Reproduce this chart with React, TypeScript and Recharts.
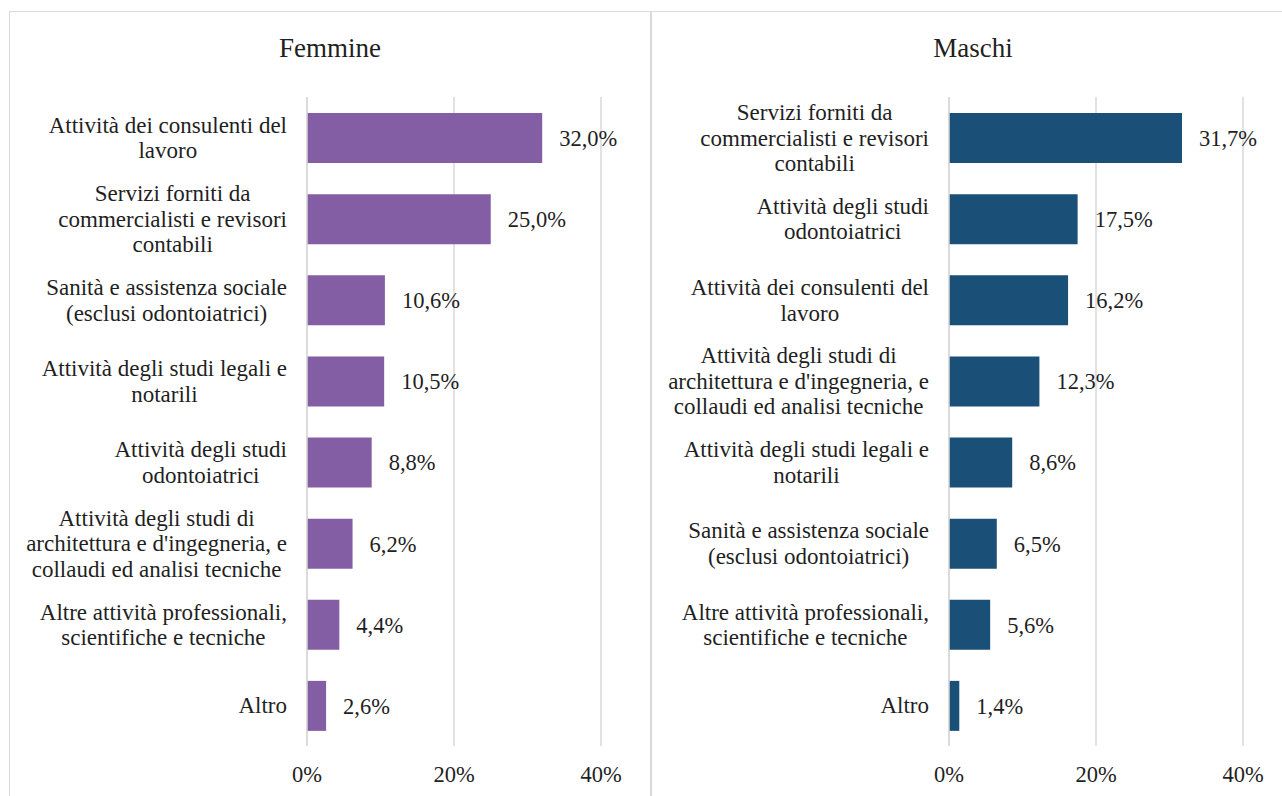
import React from "react"
import { BarChart, Bar, XAxis, YAxis, CartesianGrid, LabelList } from "recharts"

// categorie e valori (%)
const femmineLabels = [
  "Attività dei consulenti del\nlavoro",
  "Servizi forniti da\ncommercialisti e revisori\ncontabili",
  "Sanità e assistenza sociale\n(esclusi odontoiatrici)",
  "Attività degli studi legali e\nnotarili",
  "Attività degli studi\nodontoiatrici",
  "Attività degli studi di\narchitettura e d'ingegneria, e\ncollaudi ed analisi tecniche",
  "Altre attività professionali,\nscientifiche e tecniche",
  "Altro",
]
const femmineValues = [32.0, 25.0, 10.6, 10.5, 8.8, 6.2, 4.4, 2.6]

const maschiLabels = [
  "Servizi forniti da\ncommercialisti e revisori\ncontabili",
  "Attività degli studi\nodontoiatrici",
  "Attività dei consulenti del\nlavoro",
  "Attività degli studi di\narchitettura e d'ingegneria, e\ncollaudi ed analisi tecniche",
  "Attività degli studi legali e\nnotarili",
  "Sanità e assistenza sociale\n(esclusi odontoiatrici)",
  "Altre attività professionali,\nscientifiche e tecniche",
  "Altro",
]
const maschiValues = [31.7, 17.5, 16.2, 12.3, 8.6, 6.5, 5.6, 1.4]

const xTicks = [0, 20, 40]

const FONT = "'Liberation Serif', 'Times New Roman', serif"
const TEXT = "#1f1f1f"
const GRID = "#D9D9D9"

let ctx: CanvasRenderingContext2D | null = null
function measure(s: string, size: number) {
  if (!ctx) ctx = document.createElement("canvas").getContext("2d")
  if (!ctx) return s.length * size * 0.45
  ctx.font = `${size}px 'Liberation Serif'`
  return ctx.measureText(s).width
}

// etichette su più righe, centrate tra loro e allineate a destra verso l'asse
const CategoryTick = (props: any) => {
  const { x, y, payload } = props
  const lines = String(payload.value).split("\n")
  const size = 23
  const lh = 25.5
  const maxW = Math.max(...lines.map((l) => measure(l, size)))
  const cx = x - 20 - maxW / 2
  const y0 = y - ((lines.length - 1) * lh) / 2
  return (
    <text x={cx} y={y0} textAnchor="middle" fill={TEXT} fontSize={size} fontFamily={FONT}>
      {lines.map((l, i) => (
        <tspan key={i} x={cx} y={y0 + i * lh} dy="0.35em">
          {l}
        </tspan>
      ))}
    </text>
  )
}

const fmt = (v: any) => `${Number(v).toFixed(1).replace(".", ",")}%`

function Panel({ labels, values, color, width, left, axisWidth, marginRight }: any) {
  const data = labels.map((name: string, i: number) => ({ name, value: values[i] }))
  return (
    <div style={{ position: "absolute", left, top: 0 }}>
      <BarChart
        layout="vertical"
        width={width}
        height={796}
        data={data}
        margin={{ top: 97, right: marginRight, bottom: 0, left: 0 }}
        barSize={50}
      >
        <CartesianGrid horizontal={false} vertical stroke={GRID} strokeWidth={1.5} />
        <XAxis
          type="number"
          domain={[0, 40]}
          ticks={xTicks}
          tickFormatter={(v) => `${v}%`}
          axisLine={false}
          tickLine={false}
          tickSize={0}
          tickMargin={20}
          height={50}
          tick={{ fill: TEXT, fontSize: 22.5, fontFamily: FONT }}
        />
        <YAxis
          type="category"
          dataKey="name"
          width={axisWidth}
          axisLine={{ stroke: GRID, strokeWidth: 1.5 }}
          tickLine={false}
          tickSize={0}
          tickMargin={0}
          interval={0}
          tick={<CategoryTick />}
        />
        <Bar dataKey="value" fill={color} isAnimationActive={false}>
          <LabelList
            dataKey="value"
            position="right"
            offset={17}
            formatter={fmt}
            style={{ fill: TEXT, fontSize: 22.5, fontFamily: FONT }}
          />
        </Bar>
      </BarChart>
    </div>
  )
}

export default function App() {
  return (
    <div
      style={{
        position: "absolute",
        left: 0,
        top: 0,
        width: 1282,
        height: 796,
        overflow: "hidden",
        background: "#fff",
        fontFamily: FONT,
      }}
    >
      <div style={{ position: "absolute", left: 9, top: 11, width: 641, height: 820, border: `1px solid ${GRID}` }} />
      <div style={{ position: "absolute", left: 650, top: 11, width: 660, height: 820, border: `1px solid ${GRID}` }} />
      <div
        style={{ position: "absolute", left: 130, width: 400, top: 30, textAlign: "center", fontSize: 27, color: TEXT, lineHeight: "36px" }}
      >
        Femmine
      </div>
      <div
        style={{ position: "absolute", left: 773, width: 400, top: 30, textAlign: "center", fontSize: 27, color: TEXT, lineHeight: "36px" }}
      >
        Maschi
      </div>
      <Panel labels={femmineLabels} values={femmineValues} color="#845EA5" width={651} left={0} axisWidth={307} marginRight={50} />
      <Panel labels={maschiLabels} values={maschiValues} color="#1A5077" width={631} left={651} axisWidth={298} marginRight={39} />
    </div>
  )
}
